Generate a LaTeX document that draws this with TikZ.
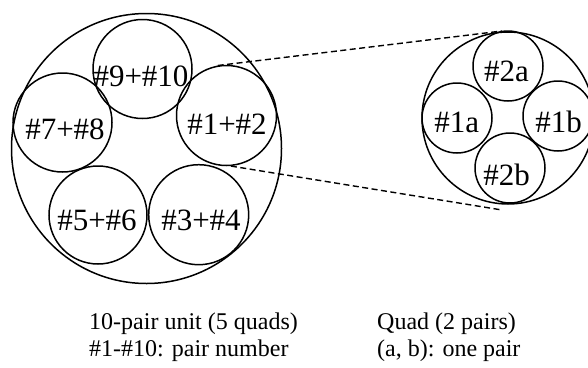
\documentclass[tikz,border=0pt]{standalone}
\usepackage{fontspec}
\setmainfont{Liberation Serif}
\begin{document}
\begin{tikzpicture}[x=1pt,y=-1pt,
  ring/.style={circle,draw,line width=1.5pt,inner sep=0pt,minimum size=#1},
  lbl/.style={font=\fontsize{31}{33}\selectfont,inner sep=0pt},
  note/.style={font=\fontsize{24}{27}\selectfont,inner sep=0pt,anchor=base west},
  zoomline/.style={dash pattern=on 6pt off 3.5pt,line width=1.4pt}]
\useasboundingbox (0,0) rectangle (588,367);
% ten-pair unit
\node[ring=270pt] (unit) at (146.5,148.5) {};
\node[ring=99pt] (c910) at (142.5,69) {};
\node[ring=99pt] (c78) at (62.5,122.5) {};
\node[ring=100pt] (c12) at (226.5,115.5) {};
\node[ring=98pt] (c56) at (98,215) {};
\node[ring=100pt] (c34) at (198.7,214.7) {};
\node[lbl] (t910) at (141,76) {\#9+\#10};
\node[lbl] (t78) at (65,129) {\#7+\#8};
\node[lbl] (t12) at (227,124) {\#1+\#2};
\node[lbl] (t56) at (97,220) {\#5+\#6};
\node[lbl] (t34) at (201,220) {\#3+\#4};
% quad
\node[ring=172pt] (quad) at (508,118) {};
\node[ring=70pt] (q2a) at (508,66) {};
\node[ring=70pt] (q1a) at (457,118) {};
\node[ring=70pt] (q1b) at (558,116) {};
\node[ring=70pt] (q2b) at (510,168) {};
\node[lbl] (t2a) at (506.5,71) {\#2a};
\node[lbl] (t1a) at (456.7,122.5) {\#1a};
\node[lbl] (t1b) at (558.5,122) {\#1b};
\node[lbl] (t2b) at (506.5,175) {\#2b};
% zoom lines
\coordinate (qa) at (502,31);
\coordinate (qb) at (502,210);
\draw[zoomline] (c12.100) -- (qa);
\draw[zoomline] (c12.-85) -- (qb);
% captions
\node[note] (l1) at (89,329) {10-pair unit (5 quads)};
\node[note] (l2) at (89,356) {\#1-\#10: pair number};
\node[note] (m1) at (377,329) {Quad (2 pairs)};
\node[note] (m2) at (377,356) {(a, b): one pair};
\end{tikzpicture}
\end{document}
